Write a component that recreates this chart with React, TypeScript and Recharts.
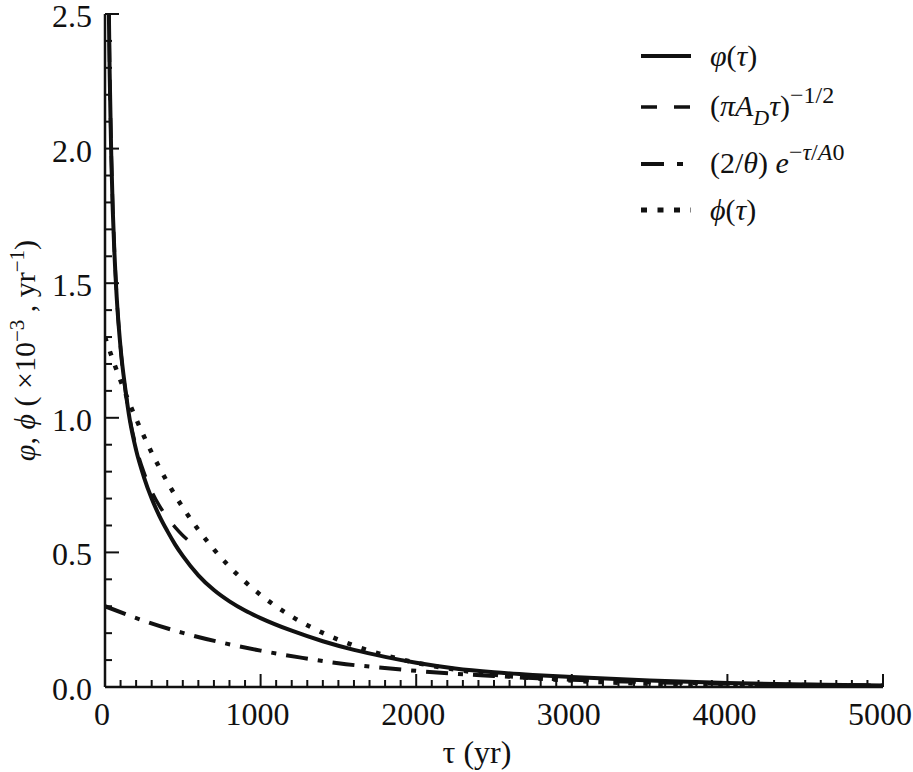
import { Legend, Line, LineChart, XAxis, YAxis } from "recharts";

// φ(τ), solid
const phiTau = [15, 20, 25, 30, 40, 50, 60, 75, 100, 130, 160, 200, 250, 300, 350, 400, 450, 500, 600, 700, 800, 900, 1000, 1200, 1400, 1600, 1800, 2000, 2250, 2500, 2750, 3000, 3500, 4000, 4500, 5000];
const phiVal = [3.2, 2.8, 2.5, 2.28, 1.98, 1.77, 1.62, 1.45, 1.26, 1.11, 0.99, 0.88, 0.78, 0.7, 0.635, 0.58, 0.53, 0.487, 0.415, 0.36, 0.318, 0.284, 0.256, 0.209, 0.17, 0.138, 0.112, 0.09, 0.069, 0.055, 0.045, 0.037, 0.024, 0.015, 0.009, 0.006];

// (πA_D τ)^-1/2, dashed (only drawn at short times)
const sqrtTau = [20, 25, 30, 40, 50, 60, 75, 100, 125, 150, 200, 250, 300, 350, 400, 450, 500, 530];
const sqrtVal = [2.82, 2.52, 2.3, 1.99, 1.78, 1.63, 1.455, 1.26, 1.127, 1.029, 0.891, 0.797, 0.727, 0.673, 0.63, 0.594, 0.563, 0.547];

// (2/θ) e^-τ/A0, dash-dot
const expTau = [0, 250, 500, 750, 1000, 1250, 1500, 1750, 2000, 2250, 2500, 2750, 3000, 3250, 3500, 3750, 4000, 4250, 4500, 4750, 5000];
const expVal = [0.3, 0.246, 0.201, 0.165, 0.135, 0.11, 0.088, 0.073, 0.06, 0.049, 0.041, 0.033, 0.027, 0.022, 0.018, 0.015, 0.012, 0.01, 0.008, 0.0067, 0.0055];

// ϕ(τ), dotted
const dotTau = [0, 50, 100, 150, 200, 300, 400, 500, 600, 700, 800, 900, 1000, 1200, 1400, 1600, 1800, 2000, 2250, 2500, 3000, 3500, 4000, 4500, 5000];
const dotVal = [1.3, 1.216, 1.138, 1.064, 0.996, 0.871, 0.762, 0.667, 0.584, 0.511, 0.447, 0.391, 0.342, 0.262, 0.201, 0.154, 0.118, 0.09, 0.065, 0.046, 0.024, 0.012, 0.006, 0.003, 0.0015];

const xTicks = Array.from({ length: 51 }, (_, i) => i * 100);
const yTicks = Array.from({ length: 26 }, (_, i) => i / 10);
const legendOrder = ["phi", "sqrt", "exp", "dot"];

const zip = (t: number[], v: number[]) => t.map((tau, i) => ({ tau, v: v[i] }));

const INK = "#111";
const FONT = "'Times New Roman', 'Liberation Serif', Tinos, 'DejaVu Serif', 'Nimbus Roman', FreeSerif, Times, serif";

const sup = (s: React.ReactNode, top = -13, size = 24) => (
  <span style={{ position: "relative", top, fontSize: size }}>{s}</span>
);

const legendStyle: Record<string, { dash?: string; width: number; label: React.ReactNode }> = {
  phi: { width: 4, label: <><i>φ</i>(<i>τ</i>)</> },
  sqrt: {
    dash: "16 17",
    width: 3.5,
    label: (
      <>
        (<i>πA</i>
        {sup(<i>D</i>, 9, 22)}
        <i>τ</i>){sup("−1/2")}
      </>
    ),
  },
  exp: {
    dash: "23 13 6 20",
    width: 4,
    label: (
      <>
        (2/<i>θ</i>) <i>e</i>
        {sup(<>−<i>τ</i>/<i>A</i>0</>)}
      </>
    ),
  },
  dot: { dash: "6 10.5", width: 5, label: <><i>ϕ</i>(<i>τ</i>)</> },
};

function BottomTick({ x, y, payload }: any) {
  const major = payload.value % 1000 === 0;
  return (
    <g>
      <line x1={x} x2={x} y1={y} y2={y - (major ? 13 : 7)} stroke={INK} strokeWidth={2} />
      {major && (
        <text x={x - 3} y={y + 38} textAnchor="middle" fontSize={32} fontFamily={FONT} fill={INK}>
          {payload.value}
        </text>
      )}
    </g>
  );
}

function TopTick({ x, y, payload }: any) {
  const major = payload.value % 1000 === 0;
  return <line x1={x} x2={x} y1={y} y2={y + (major ? 13 : 7)} stroke={INK} strokeWidth={2} />;
}

function LeftTick({ x, y, payload }: any) {
  const major = Math.round(payload.value * 10) % 5 === 0;
  return (
    <g>
      <line x1={x} x2={x + (major ? 14 : 7)} y1={y} y2={y} stroke={INK} strokeWidth={2} />
      {major && (
        <text x={x - 13} y={y + 13} textAnchor="end" fontSize={32} fontFamily={FONT} fill={INK}>
          {payload.value.toFixed(1)}
        </text>
      )}
    </g>
  );
}

function RightTick({ x, y, payload }: any) {
  const major = Math.round(payload.value * 10) % 5 === 0;
  return <line x1={x} x2={x - (major ? 14 : 7)} y1={y} y2={y} stroke={INK} strokeWidth={2} />;
}

function YTitle({ viewBox }: any) {
  const cy = viewBox && viewBox.height ? viewBox.y + viewBox.height / 2 : 350;
  return (
    <text
      transform={`translate(35,${cy}) rotate(-90)`}
      textAnchor="middle"
      fontSize={30}
      fontFamily={FONT}
      fill={INK}
    >
      <tspan fontStyle="italic">φ</tspan>, <tspan fontStyle="italic">ϕ</tspan> ( ×10
      <tspan dy={-11} fontSize={21}>−3</tspan>
      <tspan dy={11}> , yr</tspan>
      <tspan dy={-11} fontSize={21}>−1</tspan>
      <tspan dy={11}>)</tspan>
    </text>
  );
}

function LegendBox() {
  const rows = [56, 107, 164, 210];
  return (
    <div style={{ position: "relative", width: 272, height: 240, fontFamily: FONT, color: INK }}>
      {legendOrder.map((key, i) => {
        const st = legendStyle[key];
        return (
          <div
            key={key}
            style={{
              position: "absolute",
              left: 0,
              top: rows[i] - 30,
              height: 60,
              display: "flex",
              alignItems: "center",
              whiteSpace: "nowrap",
            }}
          >
            <svg width={50} height={60} style={{ flex: "none" }}>
              <line x1={0} x2={50} y1={30} y2={30} stroke={INK} strokeWidth={st.width} strokeDasharray={st.dash} />
            </svg>
            <span style={{ marginLeft: 19, fontSize: 30, lineHeight: "34px" }}>{st.label}</span>
          </div>
        );
      })}
    </div>
  );
}

const axisLine = { stroke: INK, strokeWidth: 2.5 };

export default function App() {
  return (
    <div style={{ position: "absolute", left: 0, top: 0, width: 913, height: 772, background: "#fff" }}>
      <LineChart width={913} height={772} margin={{ top: 14, right: 30, bottom: 0, left: 0 }}>
        <XAxis
          xAxisId="b"
          type="number"
          dataKey="tau"
          domain={[0, 5000]}
          ticks={xTicks}
          interval={0}
          tickSize={0}
          tickMargin={0}
          tick={(p: any) => <BottomTick {...p} />}
          height={85}
          axisLine={axisLine}
          allowDataOverflow
          label={{
            value: "τ (yr)",
            position: "insideBottom",
            offset: 9,
            dx: -17,
            style: { fontSize: 32, fontFamily: FONT, fill: INK },
          }}
        />
        <XAxis
          xAxisId="t"
          orientation="top"
          type="number"
          dataKey="tau"
          domain={[0, 5000]}
          ticks={xTicks}
          interval={0}
          tickSize={0}
          tickMargin={0}
          tick={(p: any) => <TopTick {...p} />}
          height={0}
          axisLine={axisLine}
          allowDataOverflow
        />
        <YAxis
          yAxisId="l"
          type="number"
          domain={[0, 2.5]}
          ticks={yTicks}
          interval={0}
          tickSize={0}
          tickMargin={0}
          tick={(p: any) => <LeftTick {...p} />}
          width={105}
          axisLine={axisLine}
          allowDataOverflow
          label={<YTitle />}
        />
        <YAxis
          yAxisId="r"
          orientation="right"
          type="number"
          domain={[0, 2.5]}
          ticks={yTicks}
          interval={0}
          tickSize={0}
          tickMargin={0}
          tick={(p: any) => <RightTick {...p} />}
          width={0}
          axisLine={axisLine}
          allowDataOverflow
        />
        <Legend
          layout="vertical"
          align="center"
          verticalAlign="middle"
          wrapperStyle={{ left: 641, top: 0, width: 272, height: 240 }}
          content={() => <LegendBox />}
        />
        <Line
          xAxisId="b"
          yAxisId="l"
          name="phi"
          data={zip(phiTau, phiVal)}
          dataKey="v"
          type="monotone"
          stroke={INK}
          strokeWidth={4}
          dot={false}
          activeDot={false}
          isAnimationActive={false}
        />
        <Line
          xAxisId="b"
          yAxisId="l"
          name="sqrt"
          data={zip(sqrtTau, sqrtVal)}
          dataKey="v"
          type="monotone"
          stroke={INK}
          strokeWidth={3.5}
          strokeDasharray="20 18"
          dot={false}
          activeDot={false}
          isAnimationActive={false}
        />
        <Line
          xAxisId="b"
          yAxisId="l"
          name="exp"
          data={zip(expTau, expVal)}
          dataKey="v"
          type="monotone"
          stroke={INK}
          strokeWidth={4}
          strokeDasharray="22 10 5 10"
          dot={false}
          activeDot={false}
          isAnimationActive={false}
        />
        <Line
          xAxisId="b"
          yAxisId="l"
          name="dot"
          data={zip(dotTau, dotVal)}
          dataKey="v"
          type="monotone"
          stroke={INK}
          strokeWidth={4.5}
          strokeDasharray="4.5 10.5"
          dot={false}
          activeDot={false}
          isAnimationActive={false}
        />
      </LineChart>
    </div>
  );
}
